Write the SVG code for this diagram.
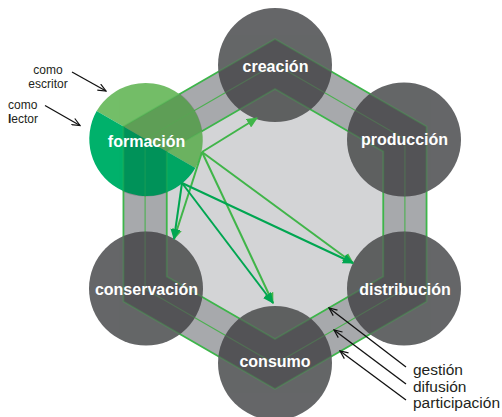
<svg xmlns="http://www.w3.org/2000/svg" width="502" height="417" viewBox="0 0 502 417">
<defs>
<style>
.lbl{font-family:"Liberation Sans",Arial,sans-serif;font-weight:bold;font-size:16px;fill:#fff;text-anchor:middle}
.note{font-family:"Liberation Sans",Arial,sans-serif;font-size:12px;fill:#231f20}
.side{font-family:"Liberation Sans",Arial,sans-serif;font-size:15.5px;fill:#231f20}
.hexl{fill:none;stroke:#3db54a;stroke-width:1.8}
.hexm{fill:none;stroke:#4cb050;stroke-width:1.1}
.gc{fill:#656668}
.al{stroke:#40b549;stroke-width:2;fill:none;marker-end:url(#hl)}
.ad{stroke:#00a651;stroke-width:2;fill:none;marker-end:url(#hd)}
.ak{stroke:#111;stroke-width:1.3;fill:none;marker-end:url(#hk)}
</style>
<marker id="hl" markerUnits="userSpaceOnUse" viewBox="0 0 11 10" refX="10" refY="5" markerWidth="11" markerHeight="10" orient="auto"><path d="M0,0 L11,5 L0,10 z" fill="#40b549"/></marker>
<marker id="hd" markerUnits="userSpaceOnUse" viewBox="0 0 11 10" refX="10" refY="5" markerWidth="11" markerHeight="10" orient="auto"><path d="M0,0 L11,5 L0,10 z" fill="#00a651"/></marker>
<marker id="hk" markerUnits="userSpaceOnUse" viewBox="0 0 10 8" refX="9" refY="4" markerWidth="10" markerHeight="8" orient="auto"><path d="M1,0.5 L9,4 L1,7.5" fill="none" stroke="#111" stroke-width="1.2"/></marker>
<clipPath id="cc">
<circle cx="275" cy="65" r="57"/><circle cx="404" cy="139.5" r="57"/><circle cx="404" cy="288.5" r="57"/>
<circle cx="275" cy="363" r="57"/><circle cx="146" cy="288.5" r="57"/><circle cx="146" cy="139.5" r="57"/>
</clipPath>
<path id="outer" d="M275,39 L426.55,126.5 L426.55,301.5 L275,389 L123.45,301.5 L123.45,126.5 Z"/>
<path id="inner" d="M275,89 L383.25,151.5 L383.25,276.5 L275,339 L166.75,276.5 L166.75,151.5 Z"/>
<g id="hexlines">
<use href="#outer" class="hexl"/>
<path class="hexm" d="M275,64 L404.9,139 L404.9,289 L275,364 L145.1,289 L145.1,139 Z"/>
<use href="#inner" class="hexl"/>
</g>
</defs>
<rect width="502" height="417" fill="#fff"/>
<g id="hexagon">
<use href="#outer" fill="#a7a9ac"/>
<use href="#inner" fill="#d3d4d6"/>
<use href="#hexlines"/>
</g>
<g id="creacion"><circle class="gc" cx="275" cy="65" r="57"/></g>
<g id="produccion"><circle class="gc" cx="404" cy="139.5" r="57"/></g>
<g id="distribucion"><circle class="gc" cx="404" cy="288.5" r="57"/></g>
<g id="consumo"><circle class="gc" cx="275" cy="363" r="57"/></g>
<g id="conservacion"><circle class="gc" cx="146" cy="288.5" r="57"/></g>
<g id="formacion">
<path d="M96.64,111 A57,57 0 0 1 195.36,168 Z" fill="#73be68"/>
<path d="M96.64,111 A57,57 0 0 0 195.36,168 Z" fill="#00b16b"/>
</g>
<g id="overlay" clip-path="url(#cc)">
<path d="M275,39 L426.55,126.5 L426.55,301.5 L275,389 L123.45,301.5 L123.45,126.5 Z M275,89 L383.25,151.5 L383.25,276.5 L275,339 L166.75,276.5 L166.75,151.5 Z" fill="#000" fill-rule="evenodd" opacity="0.17"/>
<use href="#inner" fill="#000" opacity="0.06"/>
<use href="#hexlines" opacity="0.3"/>
</g>
<g id="labels">
<text class="lbl" x="275.5" y="72">creación</text>
<text class="lbl" x="404.5" y="145">producción</text>
<text class="lbl" x="405" y="295">distribución</text>
<text class="lbl" x="275" y="367">consumo</text>
<text class="lbl" x="146.5" y="295">conservación</text>
<text class="lbl" x="146.5" y="147">formación</text>
</g>
<g id="connectors">
<path class="al" d="M202,152 L257,118"/>
<path class="al" d="M202,152 L174,239"/>
<path class="al" d="M202,152 L273,303"/>
<path class="al" d="M202,152 L353,263"/>
<path class="ad" d="M182,183 L174,239"/>
<path class="ad" d="M182,183 L273,303"/>
<path class="ad" d="M182,183 L353,263"/>
<path class="ak" d="M72,72 L106,91"/>
<path class="ak" d="M45,105.5 L80,125.5"/>
<path class="ak" d="M406,367 L329,308"/>
<path class="ak" d="M406,384 L334,330"/>
<path class="ak" d="M406,400 L340,351"/>
</g>
<g id="notes">
<text class="note" x="48" y="74" text-anchor="middle">como</text>
<text class="note" x="48" y="88" text-anchor="middle">escritor</text>
<text class="note" x="8" y="109">como</text>
<text class="note" x="8" y="123"><tspan font-weight="bold">l</tspan>ector</text>
<text class="side" x="413" y="375">gestión</text>
<text class="side" x="413" y="391.5">difusión</text>
<text class="side" x="413" y="408">participación</text>
</g>
</svg>
